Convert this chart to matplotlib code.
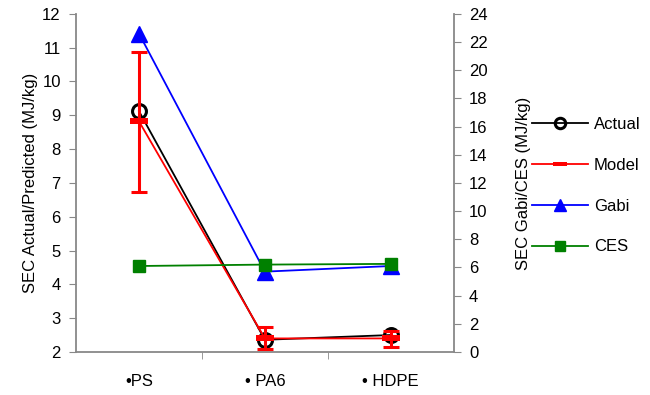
import matplotlib.pyplot as plt
import numpy as np

plt.rcParams['font.family'] = ['Liberation Sans', 'DejaVu Sans']

# dados
categorias = ['•PS', '• PA6', '• HDPE']
actual = [9.12, 2.36, 2.5]
model = [8.82, 2.4, 2.4]
model_err_baixo = [2.08, 0.3, 0.25]
model_err_alto = [2.05, 0.33, 0.22]
gabi = [22.6, 5.7, 6.1]
ces = [6.1, 6.2, 6.25]

x = np.arange(len(categorias))
cinza = '#888888'
fs = 12

fig = plt.figure(figsize=(6.5, 3.95), dpi=100)
ax = fig.add_axes([0.117, 0.109, 0.581, 0.856])
ax2 = ax.twinx()

# marcador retangular do modelo
ret = [(-2, -0.7), (2, -0.7), (2, 0.7), (-2, 0.7), (-2, -0.7)]

l1, = ax.plot(x, actual, color='black', lw=1.3, marker='o', markersize=10,
              markerfacecolor='none', markeredgewidth=2.2, label='Actual', zorder=4)
ax.errorbar(x, model, yerr=[model_err_baixo, model_err_alto], fmt='none',
            ecolor='red', elinewidth=2.2, capsize=6, capthick=2.2, zorder=5)
l2, = ax.plot(x, model, color='red', lw=1.3, marker=ret, markersize=13,
              markeredgewidth=0, label='Model', zorder=5)
l3, = ax2.plot(x, gabi, color='blue', lw=1.3, marker='^', markersize=11,
               label='Gabi', zorder=3)
l4, = ax2.plot(x, ces, color='green', lw=1.3, marker='s', markersize=9,
               label='CES', zorder=3)

ax.set_ylim(2, 12)
ax.set_yticks(range(2, 13))
ax2.set_ylim(0, 24)
ax2.set_yticks(range(0, 25, 2))
ax.set_xlim(-0.5, 2.5)
ax.set_xticks(x)
ax.set_xticklabels(categorias)
ax.set_xticks([0.5, 1.5], minor=True)
ax.tick_params(axis='x', which='major', length=0, pad=16, labelsize=fs)
ax.tick_params(axis='x', which='minor', length=5, direction='out', color=cinza)
ax.tick_params(axis='y', length=5, color=cinza, labelsize=fs, pad=6)
ax2.tick_params(axis='y', length=5, color=cinza, labelsize=fs, pad=6)

for a in (ax, ax2):
    a.spines['top'].set_visible(False)
    for s in a.spines.values():
        s.set_color(cinza)
        s.set_linewidth(1.3)
ax.spines['right'].set_visible(False)
ax2.spines['left'].set_visible(False)
ax2.spines['bottom'].set_visible(False)

ax.set_ylabel('SEC Actual/Predicted (MJ/kg)', fontsize=fs, labelpad=3)
ax2.set_ylabel('SEC Gabi/CES (MJ/kg)', fontsize=fs, labelpad=20)

fig.legend(handles=[l1, l2, l3, l4], loc='center left',
           bbox_to_anchor=(0.805, 0.53), frameon=False, fontsize=fs,
           labelspacing=1.55, handlelength=3.4, handletextpad=0.35,
           markerscale=0.75, borderpad=0)

fig.savefig('out.png', dpi=100)
